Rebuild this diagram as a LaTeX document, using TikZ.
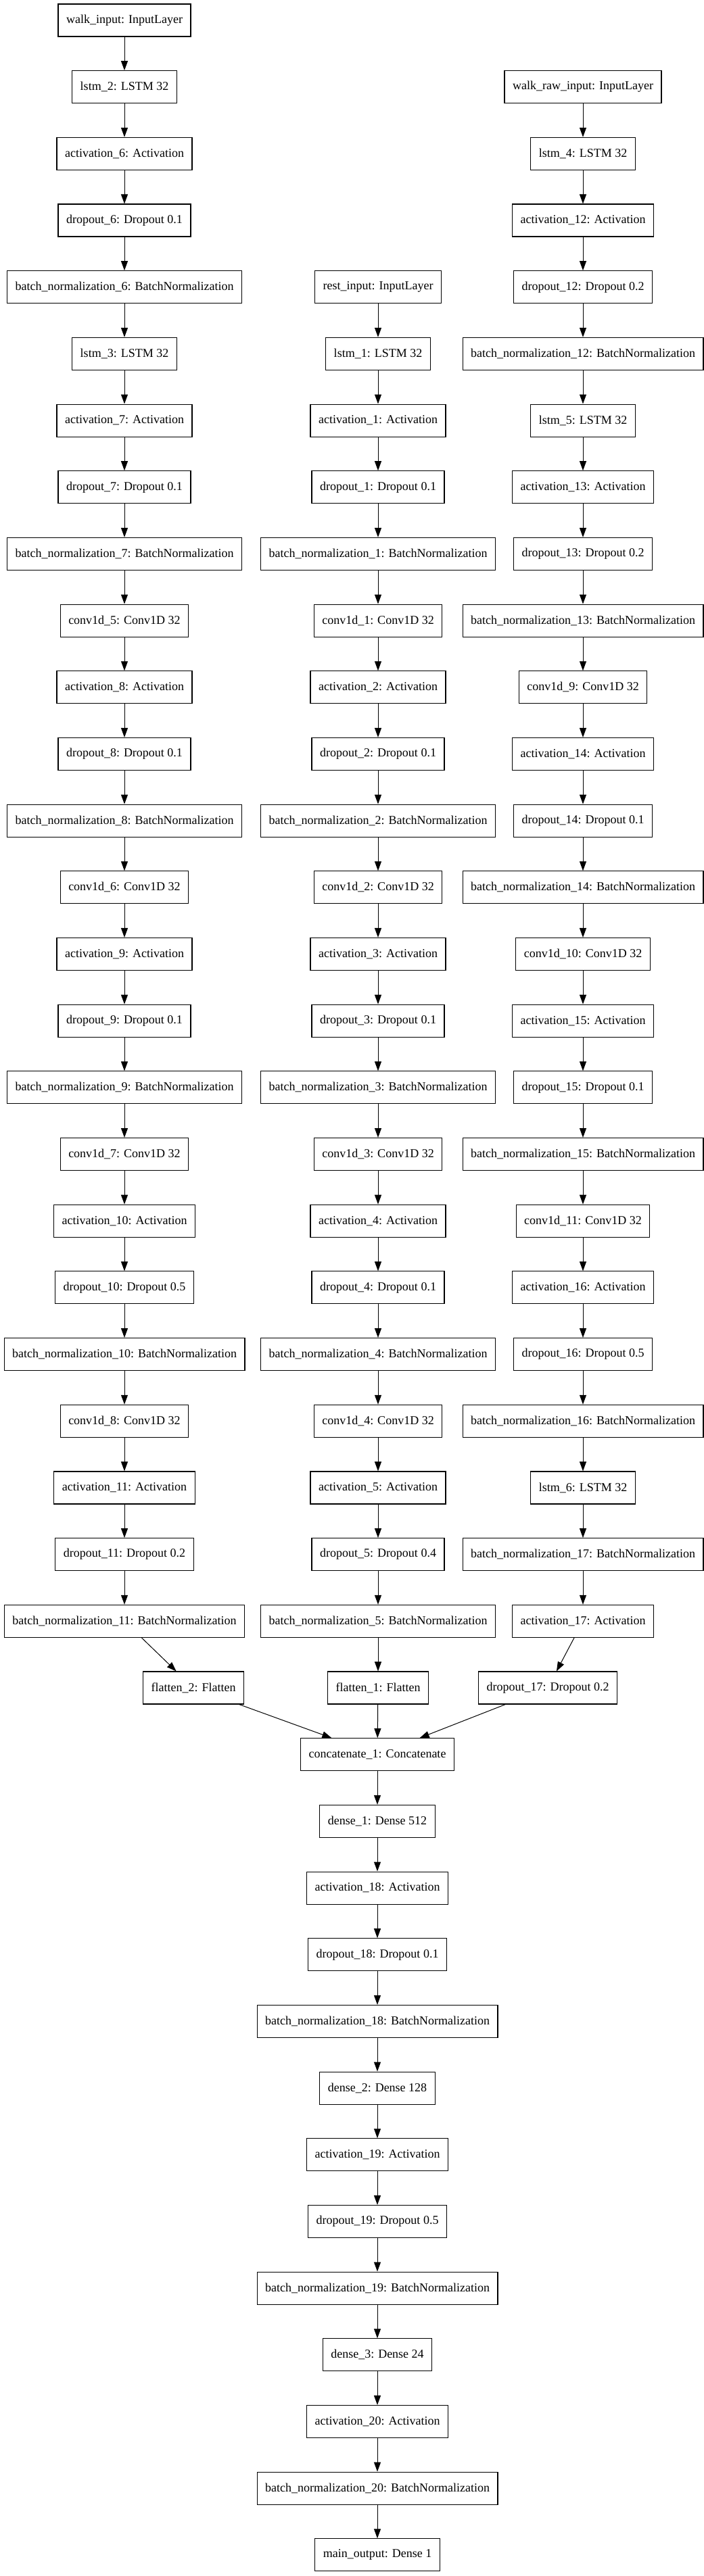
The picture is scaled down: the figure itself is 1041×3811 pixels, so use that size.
\documentclass[tikz,border=0pt]{standalone}
\usepackage{fontspec}
\setmainfont{Liberation Serif}
\usetikzlibrary{arrows.meta}

\begin{document}
\begin{tikzpicture}[
        layer/.style={
            draw,
            rectangle,
            line width=1.1pt,
            minimum height=48pt,
            inner xsep=12pt,
            inner ysep=0pt,
            font=\fontsize{18}{22}\selectfont,
            anchor=center
        },
        edge/.style={
            line width=1pt,
            -{Triangle[length=14pt,width=10pt]}
        }
    ]

    % page frame, 1pt per pixel, (0,0) at left top corner
    \useasboundingbox (0,0) rectangle (1041pt,-3811pt);
    \def\pitch{98.68}

    % (row, text)
    \def\walkdata{%
        0/walk\_input: InputLayer, 1/lstm\_2: LSTM 32, 2/activation\_6: Activation,
        3/dropout\_6: Dropout 0.1, 4/batch\_normalization\_6: BatchNormalization,
        5/lstm\_3: LSTM 32, 6/activation\_7: Activation, 7/dropout\_7: Dropout 0.1,
        8/batch\_normalization\_7: BatchNormalization, 9/conv1d\_5: Conv1D 32,
        10/activation\_8: Activation, 11/dropout\_8: Dropout 0.1,
        12/batch\_normalization\_8: BatchNormalization, 13/conv1d\_6: Conv1D 32,
        14/activation\_9: Activation, 15/dropout\_9: Dropout 0.1,
        16/batch\_normalization\_9: BatchNormalization, 17/conv1d\_7: Conv1D 32,
        18/activation\_10: Activation, 19/dropout\_10: Dropout 0.5,
        20/batch\_normalization\_10: BatchNormalization, 21/conv1d\_8: Conv1D 32,
        22/activation\_11: Activation, 23/dropout\_11: Dropout 0.2,
        24/batch\_normalization\_11: BatchNormalization%
    }
    \def\restdata{%
        4/rest\_input: InputLayer, 5/lstm\_1: LSTM 32, 6/activation\_1: Activation,
        7/dropout\_1: Dropout 0.1, 8/batch\_normalization\_1: BatchNormalization,
        9/conv1d\_1: Conv1D 32, 10/activation\_2: Activation, 11/dropout\_2: Dropout 0.1,
        12/batch\_normalization\_2: BatchNormalization, 13/conv1d\_2: Conv1D 32,
        14/activation\_3: Activation, 15/dropout\_3: Dropout 0.1,
        16/batch\_normalization\_3: BatchNormalization, 17/conv1d\_3: Conv1D 32,
        18/activation\_4: Activation, 19/dropout\_4: Dropout 0.1,
        20/batch\_normalization\_4: BatchNormalization, 21/conv1d\_4: Conv1D 32,
        22/activation\_5: Activation, 23/dropout\_5: Dropout 0.4,
        24/batch\_normalization\_5: BatchNormalization%
    }
    \def\rawdata{%
        1/walk\_raw\_input: InputLayer, 2/lstm\_4: LSTM 32, 3/activation\_12: Activation,
        4/dropout\_12: Dropout 0.2, 5/batch\_normalization\_12: BatchNormalization,
        6/lstm\_5: LSTM 32, 7/activation\_13: Activation, 8/dropout\_13: Dropout 0.2,
        9/batch\_normalization\_13: BatchNormalization, 10/conv1d\_9: Conv1D 32,
        11/activation\_14: Activation, 12/dropout\_14: Dropout 0.1,
        13/batch\_normalization\_14: BatchNormalization, 14/conv1d\_10: Conv1D 32,
        15/activation\_15: Activation, 16/dropout\_15: Dropout 0.1,
        17/batch\_normalization\_15: BatchNormalization, 18/conv1d\_11: Conv1D 32,
        19/activation\_16: Activation, 20/dropout\_16: Dropout 0.5,
        21/batch\_normalization\_16: BatchNormalization, 22/lstm\_6: LSTM 32,
        23/batch\_normalization\_17: BatchNormalization, 24/activation\_17: Activation%
    }
    \def\maindata{%
        26/concatenate\_1: Concatenate, 27/dense\_1: Dense 512,
        28/activation\_18: Activation, 29/dropout\_18: Dropout 0.1,
        30/batch\_normalization\_18: BatchNormalization, 31/dense\_2: Dense 128,
        32/activation\_19: Activation, 33/dropout\_19: Dropout 0.5,
        34/batch\_normalization\_19: BatchNormalization, 35/dense\_3: Dense 24,
        36/activation\_20: Activation, 37/batch\_normalization\_20: BatchNormalization,
        38/main\_output: Dense 1%
    }

    % three branches and the trunk
    \foreach \row/\txt in \walkdata {
        \node[layer] (l\row) at (184pt, {-(30+\row*\pitch)*1pt}) {\txt};
    }
    \foreach \row/\txt in \restdata {
        \node[layer] (m\row) at (559pt, {-(30+\row*\pitch)*1pt}) {\txt};
    }
    \foreach \row/\txt in \rawdata {
        \node[layer] (r\row) at (862pt, {-(30+\row*\pitch)*1pt}) {\txt};
    }
    \foreach \row/\txt in \maindata {
        \node[layer] (b\row) at (558pt, {-(30+\row*\pitch)*1pt}) {\txt};
    }

    % merge row
    \node[layer] (l25) at (286pt, {-(30+25*\pitch)*1pt}) {flatten\_2: Flatten};
    \node[layer] (m25) at (559pt, {-(30+25*\pitch)*1pt}) {flatten\_1: Flatten};
    \node[layer] (r25) at (810pt, {-(30+25*\pitch)*1pt}) {dropout\_17: Dropout 0.2};

    % --- arrows ---
    \foreach \row in {1,...,25} {
        \pgfmathtruncatemacro\prev{\row-1}
        \draw[edge] (l\prev) -- (l\row);
    }
    \foreach \row in {5,...,25} {
        \pgfmathtruncatemacro\prev{\row-1}
        \draw[edge] (m\prev) -- (m\row);
    }
    \foreach \row in {2,...,25} {
        \pgfmathtruncatemacro\prev{\row-1}
        \draw[edge] (r\prev) -- (r\row);
    }
    \foreach \col in {l,m,r} {
        \draw[edge] (\col25) -- (b26);
    }
    \foreach \row in {27,...,38} {
        \pgfmathtruncatemacro\prev{\row-1}
        \draw[edge] (b\prev) -- (b\row);
    }

\end{tikzpicture}
\end{document}
